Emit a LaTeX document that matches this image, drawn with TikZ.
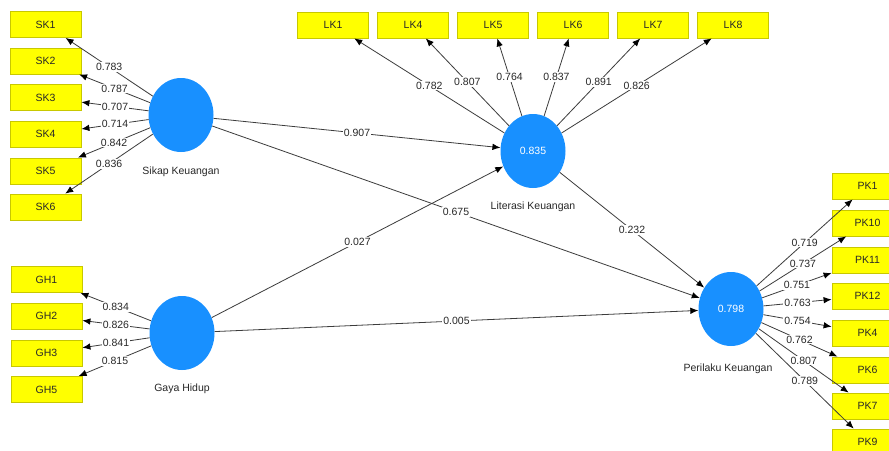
\documentclass[tikz,border=0pt]{standalone}
\usepackage{fontspec}
\setmainfont{Liberation Sans}
\usetikzlibrary{shapes.geometric,arrows.meta}
\definecolor{lvblue}{RGB}{24,144,255}
\definecolor{indyel}{RGB}{255,255,0}
\definecolor{indbrd}{RGB}{200,200,0}
\definecolor{lngray}{RGB}{60,60,60}
\definecolor{txtdark}{RGB}{40,40,40}
\tikzset{
  latent/.style={ellipse, fill=lvblue, draw=none, minimum width=65pt, minimum height=74pt, inner sep=0pt, text=white, font=\fontsize{10.5}{12}\selectfont},
  indic/.style={rectangle, fill=indyel, draw=indbrd, line width=0.8pt, minimum width=71pt, minimum height=26pt, inner sep=0pt, text=txtdark, font=\fontsize{10.5}{12}\selectfont},
  cname/.style={text=txtdark, font=\fontsize{10.5}{12}\selectfont, inner sep=1pt},
  conn/.style={draw=lngray, line width=0.8pt, -{Latex[length=8pt,width=6.5pt,black]}},
  lbl/.style={fill=white, inner sep=1pt, text=txtdark, font=\fontsize{10.5}{12}\selectfont}
}
\begin{document}
\begin{tikzpicture}[x=1pt,y=-1pt]
\useasboundingbox (0,0) rectangle (889,450);
\clip (0,0) rectangle (889,450);
\fill[white] (0,0) rectangle (889,450);
% latent variables
\node[latent] (sk) at (181,115) {};
\node[latent] (gh) at (182,333) {};
\node[latent] (lk) at (533,151) {0.835};
\node[latent] (pk) at (731,309) {0.798};
\node[cname] (skn) at (181,172) {Sikap Keuangan};
\node[cname] (ghn) at (182,389) {Gaya Hidup};
\node[cname] (lkn) at (533,207) {Literasi Keuangan};
\node[cname] (pkn) at (728,369) {Perilaku Keuangan};
% SK indicators
\node[indic] (sk1) at (45.5,24.5) {SK1};
\node[indic] (sk2) at (45.5,61) {SK2};
\node[indic] (sk3) at (45.5,97.5) {SK3};
\node[indic] (sk4) at (45.5,134) {SK4};
\node[indic] (sk5) at (45.5,171) {SK5};
\node[indic] (sk6) at (45.5,207) {SK6};
% GH indicators
\node[indic] (gh1) at (46.5,279.5) {GH1};
\node[indic] (gh2) at (46.5,316) {GH2};
\node[indic] (gh3) at (46.5,353) {GH3};
\node[indic] (gh5) at (46.5,389.5) {GH5};
% LK indicators
\node[indic] (lk1) at (333,25) {LK1};
\node[indic] (lk4) at (413,25) {LK4};
\node[indic] (lk5) at (493,25) {LK5};
\node[indic] (lk6) at (573,25) {LK6};
\node[indic] (lk7) at (653,25) {LK7};
\node[indic] (lk8) at (733,25) {LK8};
% PK indicators
\node[indic] (pk1) at (867.5,186) {PK1};
\node[indic] (pk10) at (867.5,223) {PK10};
\node[indic] (pk11) at (867.5,260) {PK11};
\node[indic] (pk12) at (867.5,296) {PK12};
\node[indic] (pk4) at (867.5,333) {PK4};
\node[indic] (pk6) at (867.5,370) {PK6};
\node[indic] (pk7) at (867.5,406) {PK7};
\node[indic] (pk9) at (867.5,442) {PK9};
% outer loadings
\draw[conn] (sk) -- node[lbl]{0.783} (sk1);
\draw[conn] (sk) -- node[lbl]{0.787} (sk2);
\draw[conn] (sk) -- node[lbl]{0.707} (sk3);
\draw[conn] (sk) -- node[lbl]{0.714} (sk4);
\draw[conn] (sk) -- node[lbl]{0.842} (sk5);
\draw[conn] (sk) -- node[lbl]{0.836} (sk6);
\draw[conn] (gh) -- node[lbl]{0.834} (gh1);
\draw[conn] (gh) -- node[lbl]{0.826} (gh2);
\draw[conn] (gh) -- node[lbl]{0.841} (gh3);
\draw[conn] (gh) -- node[lbl]{0.815} (gh5);
\draw[conn] (lk) -- node[lbl]{0.782} (lk1);
\draw[conn] (lk) -- node[lbl]{0.807} (lk4);
\draw[conn] (lk) -- node[lbl]{0.764} (lk5);
\draw[conn] (lk) -- node[lbl]{0.837} (lk6);
\draw[conn] (lk) -- node[lbl]{0.891} (lk7);
\draw[conn] (lk) -- node[lbl]{0.826} (lk8);
\draw[conn] (pk) -- node[lbl]{0.719} (pk1);
\draw[conn] (pk) -- node[lbl]{0.737} (pk10);
\draw[conn] (pk) -- node[lbl]{0.751} (pk11);
\draw[conn] (pk) -- node[lbl]{0.763} (pk12);
\draw[conn] (pk) -- node[lbl]{0.754} (pk4);
\draw[conn] (pk) -- node[lbl]{0.762} (pk6);
\draw[conn] (pk) -- node[lbl]{0.807} (pk7);
\draw[conn] (pk) -- node[lbl]{0.789} (pk9);
% inner paths
\draw[conn] (sk) -- node[lbl]{0.907} (lk);
\draw[conn] (sk) -- node[lbl]{0.675} (pk);
\draw[conn] (gh) -- node[lbl]{0.027} (lk);
\draw[conn] (gh) -- node[lbl]{0.005} (pk);
\draw[conn] (lk) -- node[lbl]{0.232} (pk);
\end{tikzpicture}
\end{document}
